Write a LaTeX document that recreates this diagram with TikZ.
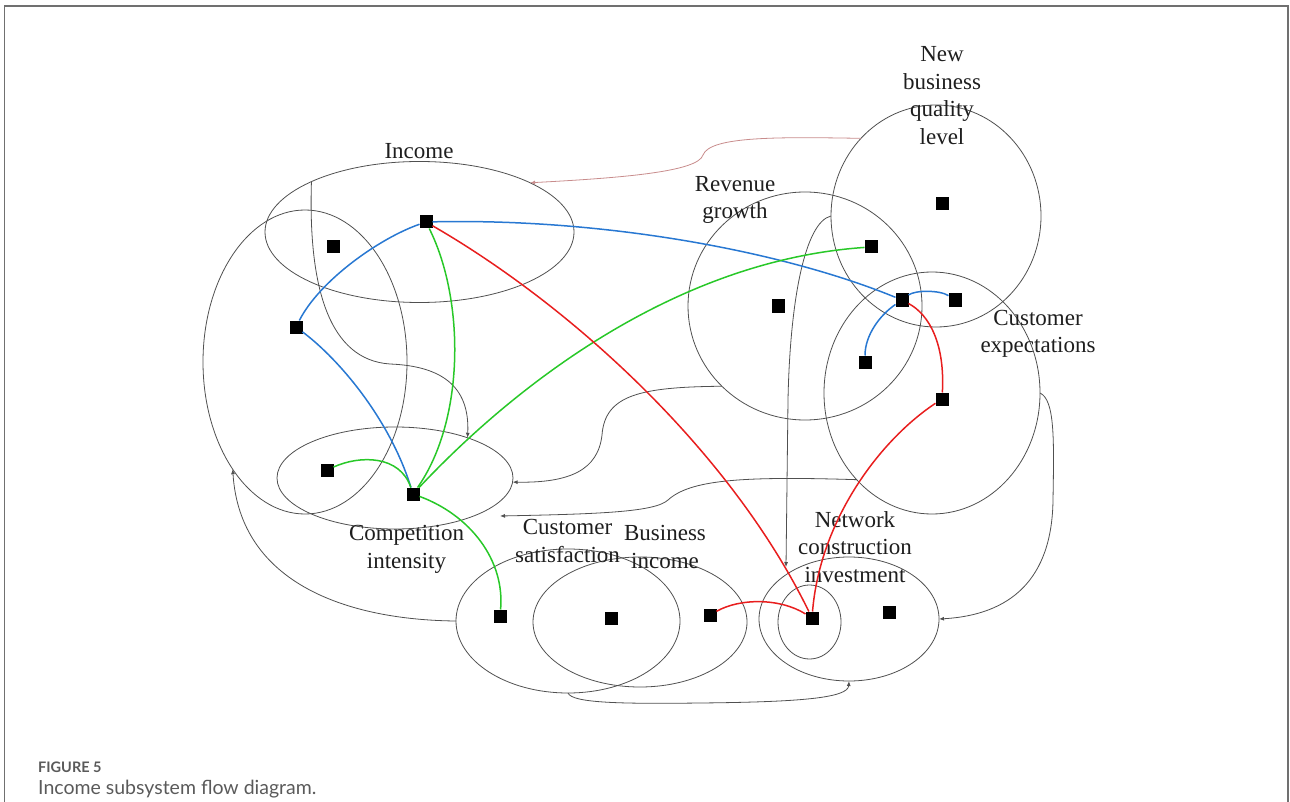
\documentclass[tikz,border=0pt]{standalone}
\usepackage{fontspec}
\setmainfont{Liberation Serif}
\newfontfamily\capfont{Lato}
\usetikzlibrary{shapes.geometric,arrows.meta}
\definecolor{ellc}{HTML}{505050}
\definecolor{txtc}{HTML}{1E1E1E}
\definecolor{bl}{RGB}{40,120,210}
\definecolor{gr}{RGB}{40,200,40}
\definecolor{rd}{RGB}{232,30,30}
\definecolor{pk}{RGB}{200,140,140}
\definecolor{frm}{HTML}{707070}
\definecolor{capc}{HTML}{5A5A5A}
\begin{document}
\begin{tikzpicture}[x=1pt,y=-1pt,
  ell/.style={ellipse, draw=ellc, line width=0.8pt, inner sep=0pt, outer sep=0pt},
  sq/.style={rectangle, fill=black, minimum size=13pt, inner sep=0pt, outer sep=0pt},
  lbl/.style={align=center, text=txtc, font=\fontsize{23}{27.5}\selectfont, inner sep=0pt},
  blk/.style={draw=ellc, line width=0.8pt, -{Latex[length=5pt,width=4pt]}},
  pkl/.style={draw=pk, line width=0.8pt, -{Latex[length=5pt,width=4pt]}},
  bline/.style={draw=bl, line width=1.5pt},
  gline/.style={draw=gr, line width=1.5pt},
  rline/.style={draw=rd, line width=1.5pt}]
\useasboundingbox (0,0) rectangle (1290,802);
% frame
\draw[frm, line width=1.6pt] (4.5,802) -- (4.5,6) -- (1288,6) -- (1288,802);
% ellipses
\node[ell, minimum width=309pt, minimum height=141pt] (inc) at (419.5,232) {};
\node[ell, minimum width=204pt, minimum height=304pt] (big) at (305,362) {};
\node[ell, minimum width=236pt, minimum height=102pt] (comp) at (395,478) {};
\node[ell, minimum width=234pt, minimum height=228pt] (rev) at (805,306) {};
\node[ell, minimum width=210pt, minimum height=222pt] (nb) at (936,216) {};
\node[ell, minimum width=216pt, minimum height=242pt] (exp) at (932,393) {};
\node[ell, minimum width=224pt, minimum height=144pt] (sat) at (568,621) {};
\node[ell, minimum width=214pt, minimum height=130pt] (bus) at (640,622) {};
\node[ell, minimum width=180pt, minimum height=124pt] (net) at (849,619) {};
\node[ell, minimum width=63pt, minimum height=74pt] (neti) at (809.5,622) {};
% labels
\node[lbl] (tinc) at (419,151.3) {Income};
\node[lbl] (tnb) at (942,95.8) {New\\business\\quality\\level};
\node[lbl] (trev) at (735,200) {Revenue\\growth};
\node[lbl] (texp) at (1038,334) {Customer\\expectations};
\node[lbl] (tcomp) at (406.5,549.6) {Competition\\intensity};
\node[lbl] (tsat) at (567.5,540.8) {Customer\\satisfaction};
\node[lbl] (tbus) at (665,547) {Business\\income};
\node[lbl] (tnet) at (855,547) {Network\\construction\\investment};
% squares
\node[sq] (A) at (333,247) {};
\node[sq] (B) at (426,222) {};
\node[sq] (C) at (296,327) {};
\node[sq] (D) at (327,470) {};
\node[sq] (E) at (413,494) {};
\node[sq] (F) at (500,616) {};
\node[sq] (G) at (611,618) {};
\node[sq] (H) at (710,615) {};
\node[sq] (I) at (812,618) {};
\node[sq] (J) at (889,612) {};
\node[sq] (K) at (778,306) {};
\node[sq] (L) at (942,204) {};
\node[sq] (M) at (871,247) {};
\node[sq] (N) at (902,300) {};
\node[sq] (O) at (955,300) {};
\node[sq] (P) at (865,362) {};
\node[sq] (Q) at (942,399) {};
% free ends
\coordinate (c1) at (500,516);
\coordinate (c2) at (786,567);
% black connectors
\draw[blk] (inc.155) .. controls (308,290) and (330,360) .. (390,364) .. controls (440,366) and (470,385) .. (comp.29);
\draw[blk] (rev.224) .. controls (640,387) and (605,395) .. (602,435) .. controls (598,470) and (570,483) .. (comp.358);
\draw[blk] (exp.229) .. controls (740,476) and (690,480) .. (668,500) .. controls (655,512) and (600,514) .. (c1);
\draw[blk] (nb.west) .. controls (805,222) and (790,300) .. (788,400) -- (c2);
\draw[blk] (exp.east) .. controls (1055,400) and (1054,440) .. (1053,500) .. controls (1052,580) and (1010,615) .. (net.east);
\draw[blk] (sat.south) .. controls (572,703) and (620,704) .. (700,703) .. controls (800,702) and (848,698) .. (net.south);
\draw[blk] (sat.west) .. controls (350,620) and (240,585) .. (big.236);
\draw[pkl] (nb.134) .. controls (780,137) and (710,136) .. (703,155) .. controls (698,172) and (620,178) .. (inc.24);
% blue
\draw[bline] (B) .. controls (600,218) and (780,250) .. (N);
\draw[bline] (B) .. controls (380,238) and (320,280) .. (C);
\draw[bline] (C) .. controls (340,360) and (390,420) .. (E);
\draw[bline] (N) .. controls (880,315) and (865,335) .. (P);
\draw[bline] (N) .. controls (915,290) and (940,290) .. (O);
% green
\draw[gline] (B) .. controls (465,300) and (465,420) .. (E);
\draw[gline] (E) .. controls (520,380) and (680,260) .. (M);
\draw[gline] (D) .. controls (360,455) and (400,455) .. (E);
\draw[gline] (E) .. controls (470,515) and (505,560) .. (F);
% red
\draw[rline] (B) .. controls (570,305) and (730,450) .. (I);
\draw[rline] (N) .. controls (930,315) and (945,345) .. (Q);
\draw[rline] (Q) .. controls (880,440) and (820,520) .. (I);
\draw[rline] (H) .. controls (740,598) and (780,598) .. (I);
% caption
\node[anchor=base west, inner sep=0pt, text=capc, font=\capfont\bfseries\fontsize{14.5}{16}\selectfont] (cap1) at (38,772) {FIGURE 5};
\node[anchor=base west, inner sep=0pt, text=capc, font=\capfont\fontsize{19.5}{22}\selectfont] (cap2) at (38,794) {Income subsystem flow diagram.};
\end{tikzpicture}
\end{document}
